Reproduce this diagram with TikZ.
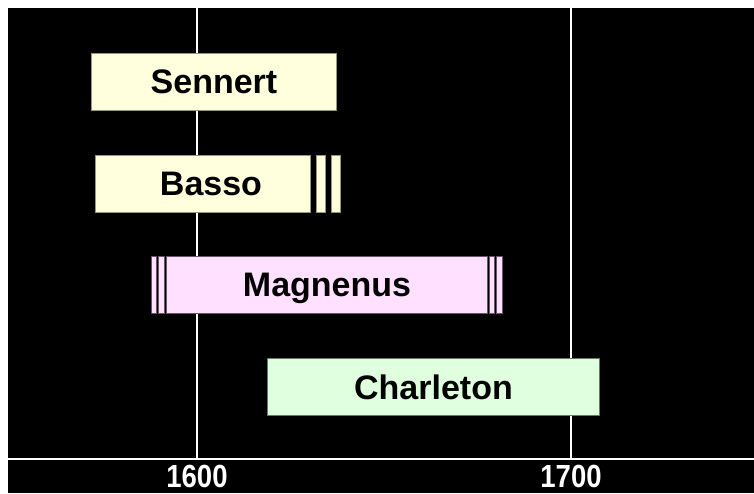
\documentclass[tikz,border=0pt]{standalone}
\usepackage{fontspec}
\setmainfont{Liberation Sans}
\usetikzlibrary{positioning}
\definecolor{pale yellow}{RGB}{255,255,221}
\definecolor{pale pink}{RGB}{255,225,255}
\definecolor{pale green}{RGB}{223,255,223}
\definecolor{yellow edge}{RGB}{150,150,115}
\definecolor{pink edge}{RGB}{105,85,105}
\definecolor{green edge}{RGB}{100,120,100}
\tikzset{
  bar/.style={anchor=north west, inner sep=0pt, line width=1pt,
    minimum height=57pt, text depth=0pt,
    font=\bfseries\fontsize{34}{34}\selectfont},
  stripe/.style={line width=1pt},
  year/.style={text=white, inner sep=0pt, text depth=0pt,
    font=\bfseries\fontsize{32}{32}\selectfont}
}
\begin{document}
\begin{tikzpicture}[x=1pt,y=-1pt]
  \useasboundingbox (0,0) rectangle (754,493);
  \fill [white] (0,0) rectangle (754,493);
  \fill [black] (8,8) rectangle (754,493);
  % time axis
  \draw [white, line width=2pt] (8,459) -- (754,459);
  \draw [white, line width=2pt] (197,8) -- (197,458);
  \draw [white, line width=2pt] (571,8) -- (571,458);
  \node [year] (y1600) at (197,476) {\scalebox{0.86}[1]{1600}};
  \node [year] (y1700) at (571,476) {\scalebox{0.86}[1]{1700}};

  % Sennert
  \node [bar, draw=yellow edge, fill=pale yellow, minimum width=245pt]
    (sennert) at (91,53) {Sennert};

  % Basso
  \node [bar, draw=yellow edge, fill=pale yellow, minimum width=215pt]
    (basso) at (95,155) {\hspace{16pt}Basso};
  \foreach \xa/\xb in {316/325, 331/340}
    \draw [stripe, draw=yellow edge, fill=pale yellow] (\xa,155) rectangle (\xb,212);

  % Magnenus
  \node [bar, draw=pink edge, fill=pale pink, minimum width=321pt]
    (magnenus) at (166,256) {Magnenus};
  \foreach \xa/\xb in {151/156, 158/164, 489/494, 496/502}
    \draw [stripe, draw=pink edge, fill=pale pink] (\xa,256) rectangle (\xb,313);

  % Charleton
  \node [bar, draw=green edge, fill=pale green, minimum width=332pt]
    (charleton) at (267,358) {Charleton};
\end{tikzpicture}
\end{document}
